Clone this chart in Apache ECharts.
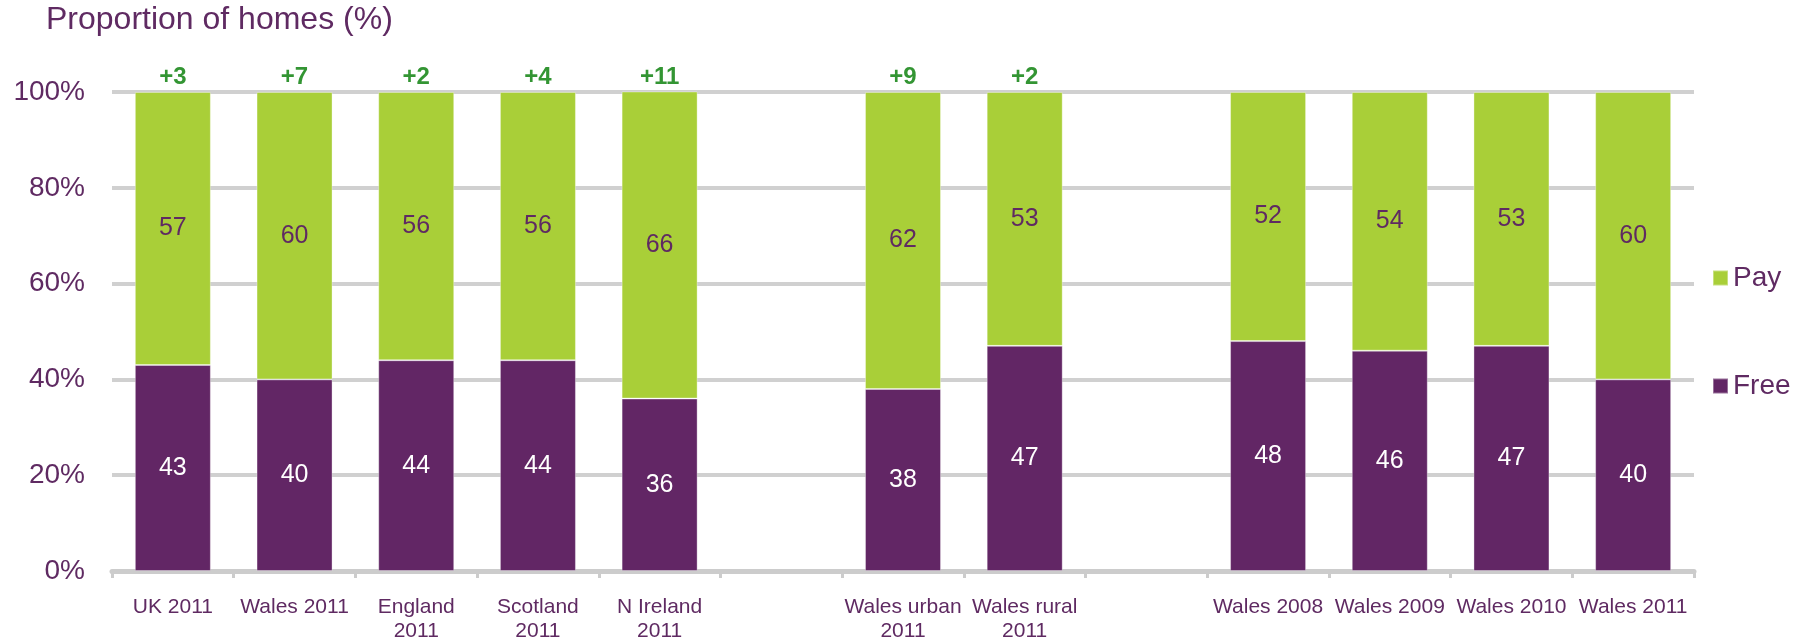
<!DOCTYPE html>
<html>
<head>
<meta charset="utf-8">
<script src="https://cdn.jsdelivr.net/npm/echarts@6/dist/echarts.min.js"></script>
<style>
html,body{margin:0;padding:0;background:#fff;}
#chart{width:1807px;height:643px;}
</style>
</head>
<body>
<div id="chart"></div>
<script>
// ---- data ----
var categories = ['UK 2011', 'Wales 2011', 'England\n2011', 'Scotland\n2011', 'N Ireland\n2011', '',
                  'Wales urban\n2011', 'Wales rural\n2011', '',
                  'Wales 2008', 'Wales 2009', 'Wales 2010', 'Wales 2011'];
var freeValues = [43, 40, 44, 44, 36, '-', 38, 47, '-', 48, 46, 47, 40];
var payValues  = [57, 60, 56, 56, 66, '-', 62, 53, '-', 52, 54, 53, 60];
var changeLabels = ['+3', '+7', '+2', '+4', '+11', '', '+9', '+2', '', '', '', '', ''];
var yTicks = [0, 20, 40, 60, 80, 100];

var PURPLE = '#622665';
var GREEN = '#a9cf38';
var TEXT = '#5f2a62';
var FONT = '"Liberation Sans", Arial, sans-serif';

var chart = echarts.init(document.getElementById('chart'), null, {renderer: 'canvas'});

var changeData = changeLabels.map(function (l) { return l ? 100 : '-'; });

var option = {
  backgroundColor: '#ffffff',
  animation: false,
  title: {
    text: 'Proportion of homes (%)',
    left: 46, top: 4, padding: 0,
    textStyle: {color: TEXT, fontFamily: FONT, fontSize: 32, fontWeight: 'normal'}
  },
  legend: {
    orient: 'vertical',
    left: 1712, top: 264, padding: 0,
    itemWidth: 15, itemHeight: 15, itemGap: 80,
    data: ['Pay', 'Free'],
    icon: 'rect',
    textStyle: {color: TEXT, fontFamily: FONT, fontSize: 28}
  },
  grid: {left: 112, right: 113, top: 92, bottom: 71, containLabel: false},
  xAxis: {
    type: 'category',
    data: categories,
    axisLine: {lineStyle: {color: '#cccccc', width: 5}},
    axisTick: {show: true, length: 7, lineStyle: {color: '#cccccc', width: 3}},
    axisLabel: {color: TEXT, fontFamily: FONT, fontSize: 21, lineHeight: 24, margin: 24, interval: 0}
  },
  yAxis: {
    type: 'value',
    min: 0, max: 100, interval: 20,
    axisLine: {show: false},
    axisTick: {show: false},
    splitLine: {lineStyle: {color: '#d0d0d0', width: 4}},
    axisLabel: {color: TEXT, fontFamily: FONT, fontSize: 28, margin: 27,
      formatter: function (v) { return yTicks.indexOf(v) >= 0 ? v + '%' : ''; }}
  },
  series: [
    {
      name: 'Free', type: 'bar', stack: 'total',
      data: freeValues,
      barWidth: 76,
      itemStyle: {color: PURPLE, borderColor: 'rgba(255,255,255,0.35)', borderWidth: 1},
      label: {show: true, position: 'inside', color: '#ffffff', fontFamily: FONT, fontSize: 25}
    },
    {
      name: 'Pay', type: 'bar', stack: 'total',
      data: payValues,
      barWidth: 76,
      clip: true,
      itemStyle: {color: GREEN, borderColor: 'rgba(255,255,255,0.35)', borderWidth: 1},
      label: {show: true, position: 'inside', color: TEXT, fontFamily: FONT, fontSize: 25}
    },
    {
      name: 'change', type: 'scatter',
      data: changeData,
      symbolSize: 0,
      silent: true,
      label: {
        show: true, position: 'top', distance: 3,
        color: '#007a00', fontFamily: FONT, fontSize: 24, fontWeight: 'bold',
        formatter: function (p) { return changeLabels[p.dataIndex]; }
      },
      z: 5
    }
  ]
};
chart.setOption(option);
</script>
</body>
</html>
